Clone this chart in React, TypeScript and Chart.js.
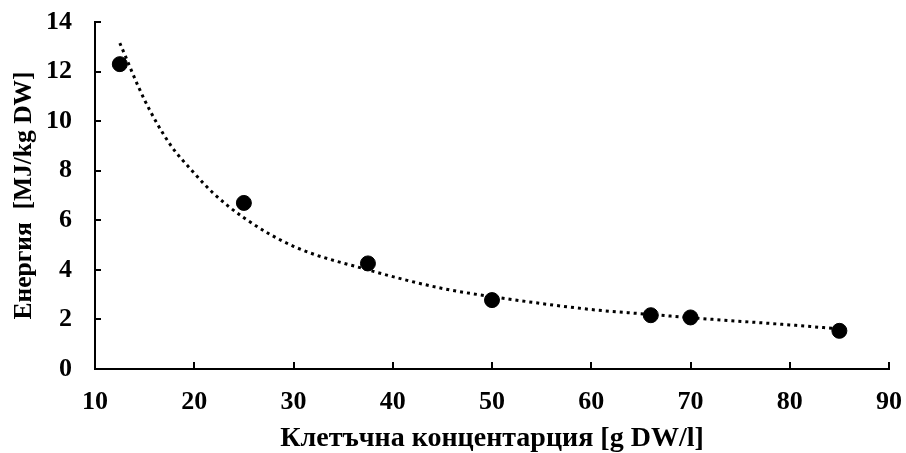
import React, { useEffect, useRef } from "react";
import { Chart, registerables } from "chart.js";

Chart.register(...registerables);

const concentration = [12.5, 25, 37.5, 50, 66, 70, 85];
const energy = [12.3, 6.7, 4.26, 2.78, 2.17, 2.08, 1.54];

const trendX = [12.5, 15, 17.5, 20, 21.9, 25, 30, 37.5, 45, 50, 60, 66, 70, 80, 85];
const trendY = [13.15, 10.85, 9.1, 7.9, 7.1, 6.1, 4.95, 4.0, 3.25, 2.92, 2.4, 2.2, 2.07, 1.78, 1.62];

const xTicks = [10, 20, 30, 40, 50, 60, 70, 80, 90];
const yTicks = [0, 2, 4, 6, 8, 10, 12, 14];

const xTitle = "Клетъчна концентарция [g DW/l]";
const yTitle = "Енергия  [MJ/kg DW]";

const FONT = "'Liberation Serif', 'Times New Roman', serif";

const inwardTicks = {
  id: "inwardTicks",
  afterDatasetsDraw(chart: any) {
    const { ctx, scales } = chart;
    const xs = scales.x;
    const ys = scales.y;
    ctx.save();
    ctx.strokeStyle = "#000";
    ctx.lineWidth = 2;
    ctx.beginPath();
    xTicks.forEach((v) => {
      const px = Math.round(xs.getPixelForValue(v));
      ctx.moveTo(px, ys.bottom);
      ctx.lineTo(px, ys.bottom - 7);
    });
    yTicks.forEach((v) => {
      const py = Math.round(ys.getPixelForValue(v));
      ctx.moveTo(xs.left, py);
      ctx.lineTo(xs.left + 6, py);
    });
    ctx.stroke();
    ctx.restore();
  },
};

const zeroPad = (s: any) => {
  s.paddingLeft = 0;
  s.paddingRight = 0;
  s.paddingTop = 0;
  s.paddingBottom = 0;
};

export default function App() {
  const ref = useRef<HTMLCanvasElement>(null);
  useEffect(() => {
    document.body.style.margin = "0";
    const chart = new Chart(ref.current!, {
      type: "scatter",
      data: {
        datasets: [
          {
            label: "Energy",
            data: concentration.map((x, i) => ({ x, y: energy[i] })),
            backgroundColor: "#000",
            borderColor: "#000",
            pointRadius: 7.5,
            pointHoverRadius: 7.5,
            showLine: false,
          },
          {
            label: "Trend",
            data: trendX.map((x, i) => ({ x, y: trendY[i] })),
            showLine: true,
            borderColor: "#000",
            borderWidth: 3,
            borderDash: [3, 4],
            pointRadius: 0,
            fill: false,
            cubicInterpolationMode: "monotone",
          },
        ],
      },
      options: {
        animation: false,
        responsive: false,
        layout: { padding: { left: 0, right: 17, top: 22, bottom: 0 } },
        plugins: { legend: { display: false }, tooltip: { enabled: false } },
        scales: {
          x: {
            type: "linear",
            min: 10,
            max: 90,
            afterBuildTicks: (s: any) => {
              s.ticks = xTicks.map((v) => ({ value: v }));
            },
            afterFit: (s: any) => {
              s.height = 84;
              zeroPad(s);
            },
            grid: { display: false, drawTicks: false },
            border: { display: true, color: "#000", width: 2 },
            ticks: {
              color: "#000",
              padding: 18,
              maxRotation: 0,
              font: { family: FONT, size: 26, weight: "bold" },
            },
            title: {
              display: true,
              text: xTitle,
              color: "#000",
              padding: { top: 0, bottom: 0 },
              font: { family: FONT, size: 28, weight: "bold", lineHeight: 1 },
            },
          },
          y: {
            type: "linear",
            min: 0,
            max: 14,
            afterBuildTicks: (s: any) => {
              s.ticks = yTicks.map((v) => ({ value: v }));
            },
            afterFit: (s: any) => {
              s.width = 95;
              zeroPad(s);
            },
            grid: { display: false, drawTicks: false },
            border: { display: true, color: "#000", width: 2 },
            ticks: {
              color: "#000",
              padding: 23,
              font: { family: FONT, size: 26, weight: "bold" },
            },
            title: {
              display: true,
              text: yTitle,
              color: "#000",
              padding: { top: 12, bottom: 0 },
              font: { family: FONT, size: 25.5, weight: "bold", lineHeight: 1 },
            },
          },
        },
      },
      plugins: [inwardTicks],
    });
    return () => chart.destroy();
  }, []);
  return (
    <div style={{ width: 906, height: 453 }}>
      <canvas ref={ref} width={906} height={453} style={{ display: "block" }} />
    </div>
  );
}
